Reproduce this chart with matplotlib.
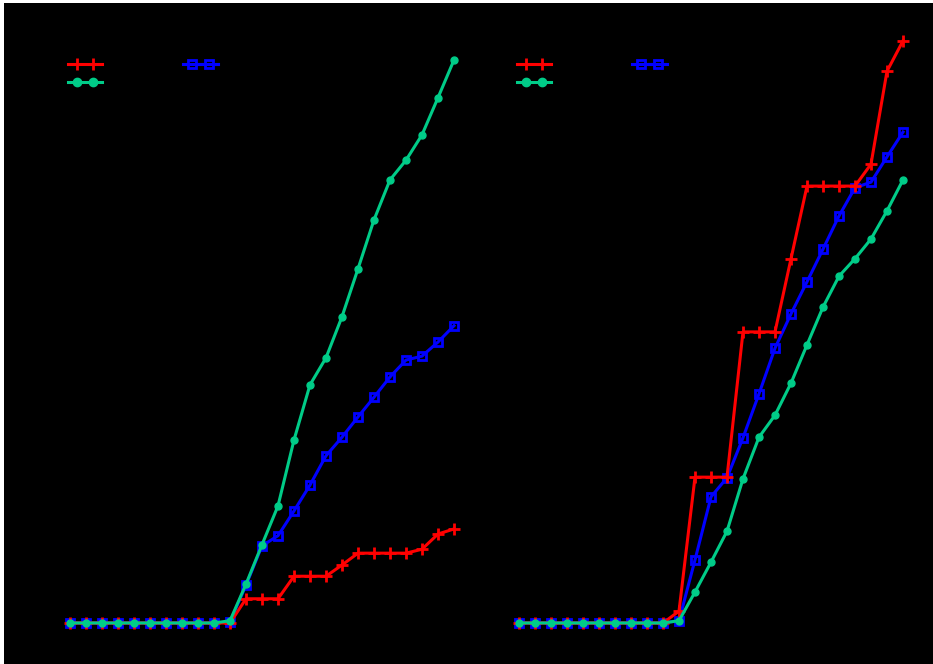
import numpy as np
import matplotlib
matplotlib.use('Agg')
import matplotlib.pyplot as plt
from matplotlib.lines import Line2D
from matplotlib.patches import Rectangle
from matplotlib.legend_handler import HandlerLine2D, HandlerTuple

steps = list(range(25))

# left panel
left_red = [0, 0, 0, 0, 0, 0, 0, 0, 0, 0, 0, 4.3, 4.3, 4.3, 8.3, 8.3, 8.3, 10.3,
            12.4, 12.4, 12.4, 12.4, 13.1, 15.8, 16.7]
left_blue = [0, 0, 0, 0, 0, 0, 0, 0, 0, 0, 0.2, 6.7, 13.7, 15.5, 19.9, 24.5, 29.7,
             33.0, 36.6, 40.1, 43.7, 46.7, 47.4, 49.9, 52.8]
left_green = [0, 0, 0, 0, 0, 0, 0, 0, 0, 0, 0.4, 6.9, 13.9, 20.8, 32.5, 42.3, 47.1,
              54.4, 62.9, 71.6, 78.7, 82.2, 86.7, 93.3, 100.0]

# right panel
right_red = [0, 0, 0, 0, 0, 0, 0, 0, 0, 0, 2.1, 25.9, 25.9, 25.9, 51.7, 51.7, 51.7,
             64.7, 77.6, 77.6, 77.6, 77.6, 81.5, 98.0, 103.4]
right_blue = [0, 0, 0, 0, 0, 0, 0, 0, 0, 0, 0.4, 11.2, 22.4, 25.8, 32.9, 40.7, 48.8,
              54.9, 60.6, 66.4, 72.3, 77.3, 78.3, 82.8, 87.2]
right_green = [0, 0, 0, 0, 0, 0, 0, 0, 0, 0, 0.4, 5.5, 10.8, 16.3, 25.6, 33.0, 36.9,
               42.6, 49.4, 56.1, 61.6, 64.7, 68.2, 73.2, 78.7]

labels = ['Greedy', 'Random', 'Optimal']

RED = '#ff0000'
BLUE = '#0000ff'
GREEN = '#00cc88'

W, H = 933, 664
fig = plt.figure(figsize=(W / 100.0, H / 100.0), dpi=100, facecolor='black')

# thin white strip along the top and left edges
fig.patches.append(Rectangle((0, 1 - 3.0 / H), 1, 3.0 / H, transform=fig.transFigure,
                             facecolor='white', edgecolor='none', zorder=5))
fig.patches.append(Rectangle((0, 0), 4.0 / W, 1, transform=fig.transFigure,
                             facecolor='white', edgecolor='none', zorder=5))

ax_bottom = (H - 650.0) / H
ax_height = 630.0 / H
ax_width = 424.0 / W
ax1 = fig.add_axes([50.0 / W, ax_bottom, ax_width, ax_height])
ax2 = fig.add_axes([499.0 / W, ax_bottom, ax_width, ax_height])


def draw_panel(ax, red, blue, green):
    ax.set_facecolor('black')
    ax.plot(steps, red, color=RED, lw=2.2, marker='+', ms=8, mew=2, zorder=3)
    ax.plot(steps, blue, color=BLUE, lw=2.2, marker='s', ms=6, mew=2,
            mfc='none', zorder=2)
    ax.plot(steps, green, color=GREEN, lw=2.2, marker='o', ms=5, zorder=4)
    ax.set_xlim(-1.25, 25.25)
    ax.set_ylim(-4.8, 107.1)
    ax.set_xticks([])
    ax.set_yticks([])

    # legend: full-width line with two inset markers
    handles = []
    hmap = {}
    for c, m, face in [(RED, '+', RED), (GREEN, 'o', GREEN), (BLUE, 's', 'none')]:
        ln = Line2D([], [], color=c, lw=2.2)
        mk = Line2D([], [], color=c, ls='none', marker=m, ms=6 if m != '+' else 8,
                    mew=2 if m != 'o' else 1, mfc=face)
        hmap[ln] = HandlerLine2D(numpoints=2, marker_pad=0)
        hmap[mk] = HandlerLine2D(numpoints=2, marker_pad=0.65)
        handles.append((ln, mk))
    hmap[tuple] = HandlerTuple(ndivide=1, pad=0)
    ax.legend(handles, [labels[0], labels[2], labels[1]], handler_map=hmap,
              ncol=2, frameon=False, loc='upper left', bbox_to_anchor=(0.012, 0.96),
              handlelength=2.5, columnspacing=1.05, labelspacing=0.3,
              labelcolor='black')


draw_panel(ax1, left_red, left_blue, left_green)
draw_panel(ax2, right_red, right_blue, right_green)

fig.savefig('out.png', dpi=100, facecolor=fig.get_facecolor())
